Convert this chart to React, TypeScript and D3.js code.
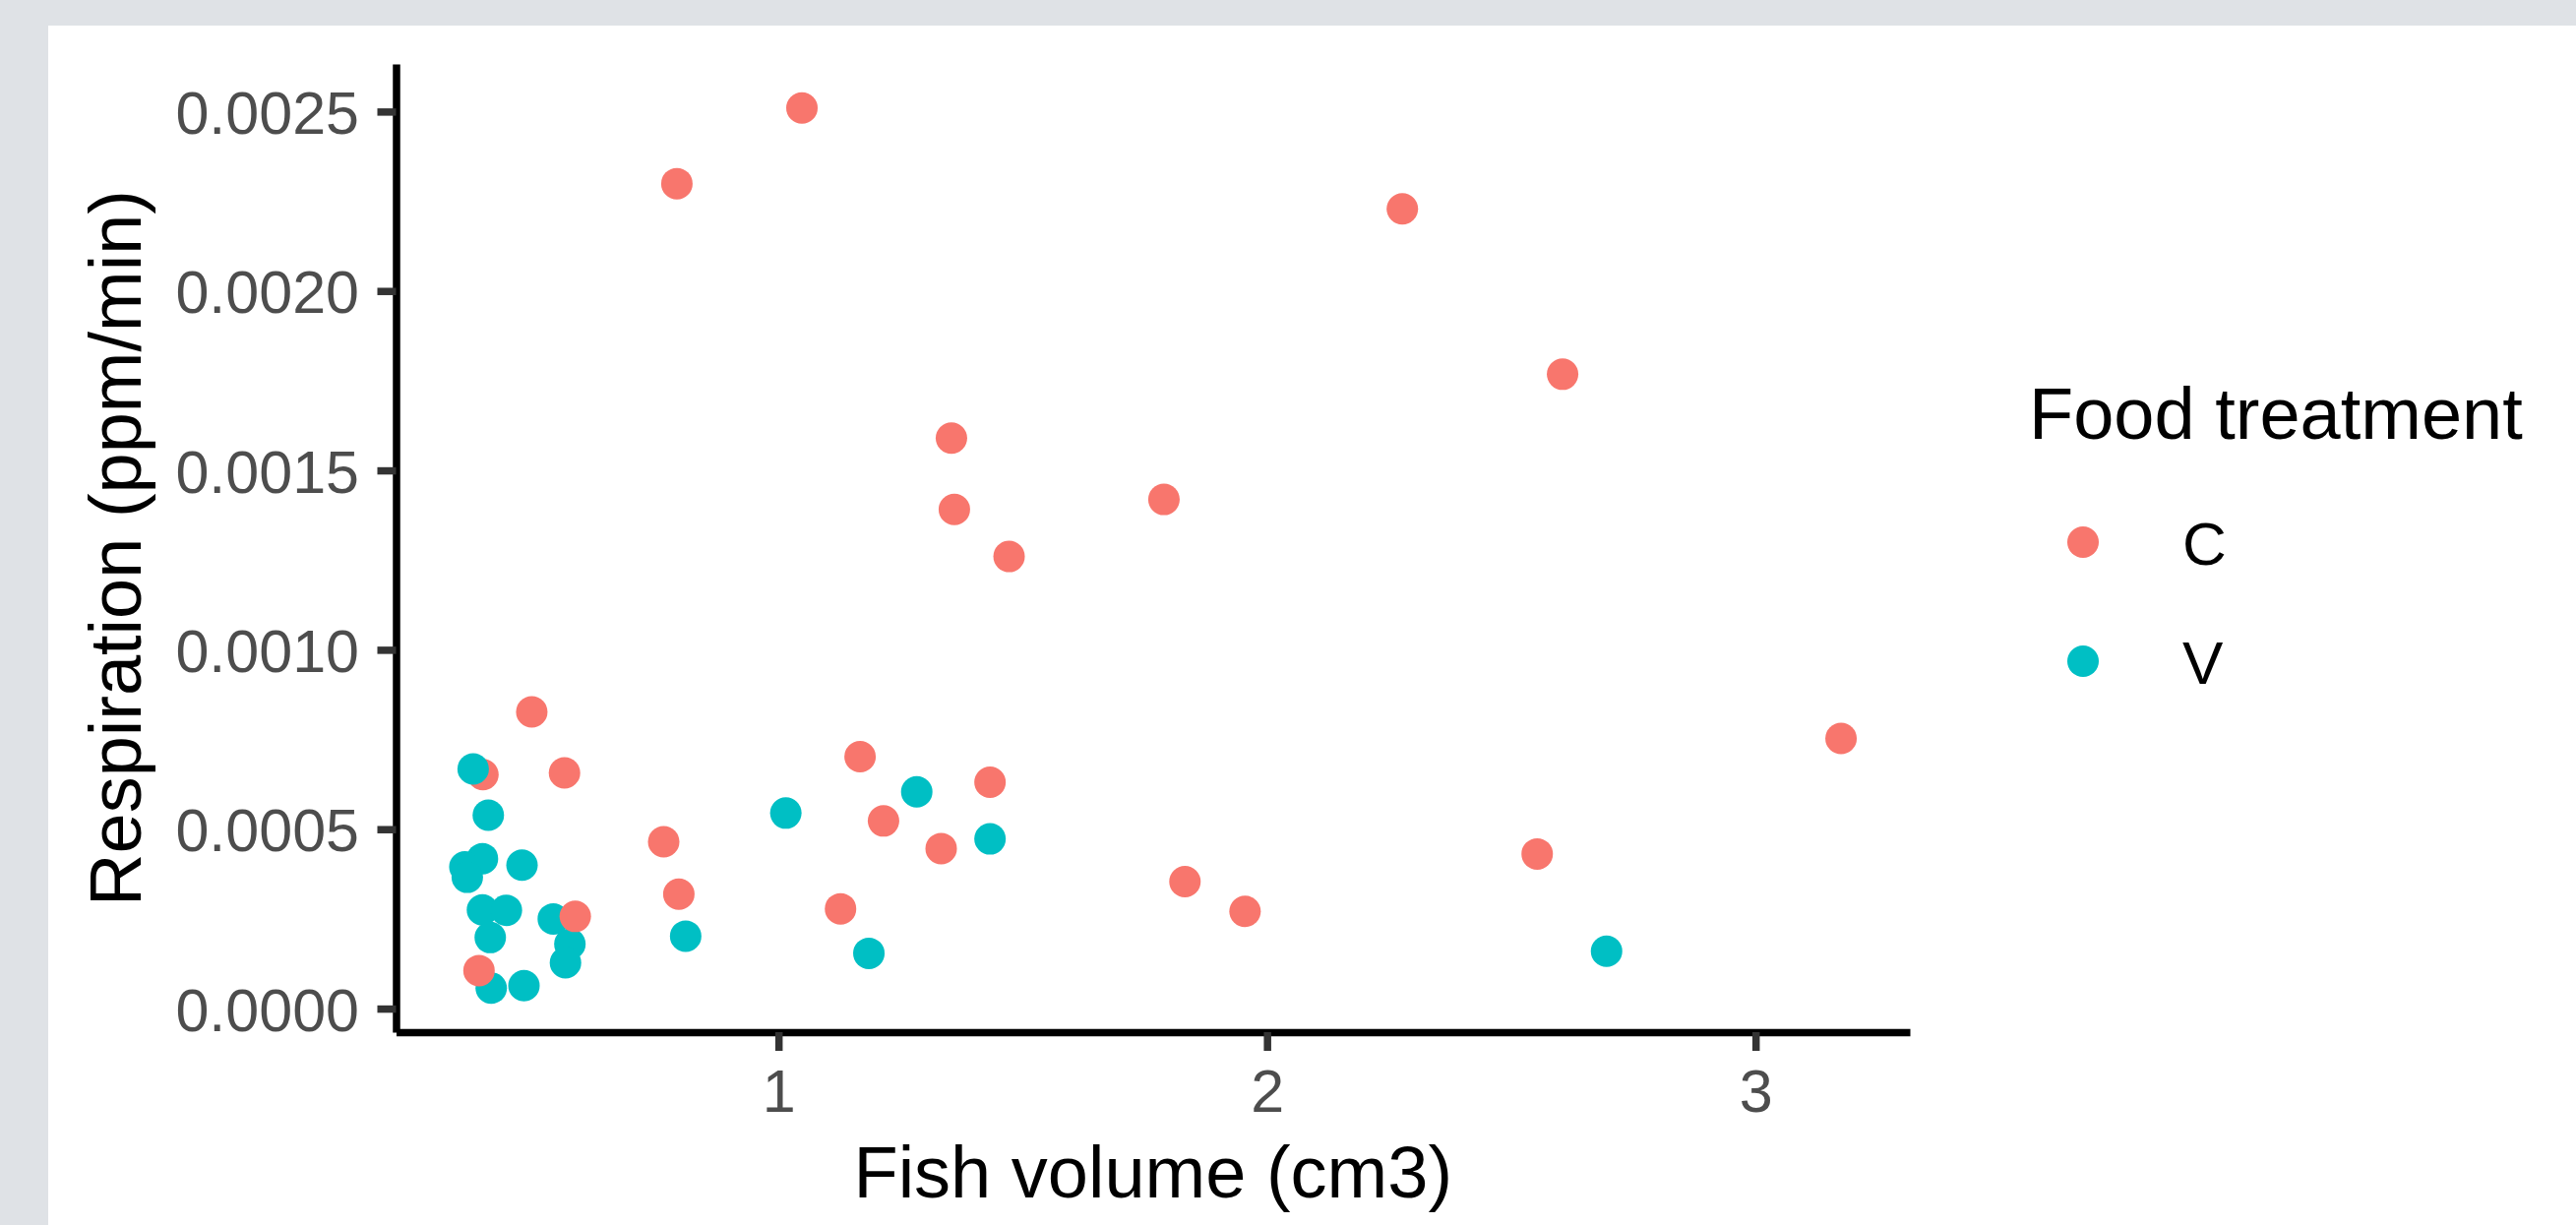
import React, { useEffect, useRef } from 'react';
import * as d3 from 'd3';

// points in drawing order
const treatment = [
  'C', 'C', 'C', 'C', 'C', 'C', 'C', 'C', 'C', 'C', 'C',
  'C', 'C', 'C', 'C', 'C', 'C', 'C', 'C', 'C', 'C', 'C',
  'V', 'V', 'V', 'V', 'V', 'V', 'V', 'V', 'V', 'V',
  'V', 'V', 'V', 'V', 'V', 'V', 'V', 'V', 'V', 'V',
  'C', 'C',
];
const volume = [
  0.495, 0.395, 0.562, 0.765, 0.796, 1.167, 1.215, 1.127, 1.433, 1.333, 1.832,
  1.955, 3.175, 2.553, 1.048, 0.792, 2.277, 2.605, 1.354, 1.36, 1.789, 1.472,
  0.375, 0.406, 0.394, 0.358, 0.363, 0.475, 0.394, 0.443, 0.539, 0.41,
  0.573, 0.564, 0.412, 0.479, 0.81, 1.015, 1.185, 1.283, 1.433, 2.695,
  0.584, 0.387,
];
const respiration = [
  0.000827, 0.000652, 0.000657, 0.000465, 0.000319, 0.000702, 0.000523, 0.000278, 0.000631, 0.000446, 0.000354,
  0.000271, 0.000753, 0.000431, 0.00251, 0.002299, 0.002229, 0.001768, 0.00159, 0.001391, 0.001419, 0.00126,
  0.000668, 0.000539, 0.000418, 0.000395, 0.000366, 0.0004, 0.000275, 0.000274, 0.00025, 0.000198,
  0.00018, 0.000128, 0.000057, 0.000064, 0.000202, 0.000545, 0.000154, 0.000604, 0.000473, 0.00016,
  0.000257, 0.000106,
];

const groups = ['C', 'V'];
const groupColors = ['#F8766D', '#00BFC4'];
const xTicks = [1, 2, 3];
const yTicks = [0, 0.0005, 0.001, 0.0015, 0.002, 0.0025];

const FONT = '"Liberation Sans", Arial, Helvetica, sans-serif';

function App() {
  const chartRef = useRef<SVGSVGElement>(null);

  useEffect(() => {
    const svg = d3.select(chartRef.current);
    svg.selectAll('*').remove();

    const W = 2618;
    const H = 1245;
    const panel = { left: 402.5, right: 1941, top: 65, bottom: 1049 };

    const data = volume.map((v, i) => ({ x: v, y: respiration[i], g: treatment[i] }));

    // ggplot style 5% expansion
    const expand = (ext: number[]) => {
      const pad = (ext[1] - ext[0]) * 0.05;
      return [ext[0] - pad, ext[1] + pad];
    };

    const x = d3
      .scaleLinear()
      .domain(expand(d3.extent(volume) as number[]))
      .range([panel.left, panel.right]);
    const y = d3
      .scaleLinear()
      .domain(expand(d3.extent(respiration) as number[]))
      .range([panel.bottom, panel.top]);
    const color = d3.scaleOrdinal<string, string>().domain(groups).range(groupColors);

    svg.append('rect').attr('width', W).attr('height', H).attr('fill', '#DFE2E6');
    svg.append('rect').attr('x', 49).attr('y', 26).attr('width', W - 49).attr('height', H - 26).attr('fill', '#FFFFFF');

    // points
    svg
      .append('g')
      .selectAll('circle')
      .data(data)
      .enter()
      .append('circle')
      .attr('cx', (d) => x(d.x))
      .attr('cy', (d) => y(d.y))
      .attr('r', 16)
      .attr('fill', (d) => color(d.g));

    // axes
    const yAxis = svg
      .append('g')
      .attr('transform', `translate(${panel.left},0)`)
      .call(d3.axisLeft(y).tickValues(yTicks).tickFormat(d3.format('.4f')).tickSize(19).tickSizeOuter(0).tickPadding(18.5));
    const xAxis = svg
      .append('g')
      .attr('transform', `translate(0,${panel.bottom})`)
      .call(d3.axisBottom(x).tickValues(xTicks).tickFormat(d3.format('d')).tickSize(19).tickSizeOuter(0).tickPadding(18.5));

    [yAxis, xAxis].forEach((ax) => {
      ax.attr('font-family', FONT).attr('font-size', 61);
      ax.select('.domain').attr('stroke', '#000000').attr('stroke-width', 7.5);
      ax.selectAll('.tick line').attr('stroke', '#333333').attr('stroke-width', 7.5);
      ax.selectAll('.tick text').attr('fill', '#4D4D4D');
    });
    yAxis.selectAll('.tick text').attr('dy', '0.36em');

    // axis titles
    svg
      .append('text')
      .attr('x', (panel.left + panel.right) / 2)
      .attr('y', 1217)
      .attr('text-anchor', 'middle')
      .attr('font-family', FONT)
      .attr('font-size', 74)
      .attr('fill', '#000000')
      .text('Fish volume (cm3)');
    svg
      .append('text')
      .attr('transform', `translate(143,${(panel.top + panel.bottom) / 2}) rotate(-90)`)
      .attr('text-anchor', 'middle')
      .attr('font-family', FONT)
      .attr('font-size', 74)
      .attr('fill', '#000000')
      .text('Respiration (ppm/min)');

    // legend
    const legend = svg.append('g');
    legend
      .append('text')
      .attr('x', 2062)
      .attr('y', 446)
      .attr('font-family', FONT)
      .attr('font-size', 74)
      .attr('fill', '#000000')
      .text('Food treatment');
    const item = legend
      .selectAll('g.item')
      .data(groups)
      .enter()
      .append('g')
      .attr('class', 'item')
      .attr('transform', (d, i) => `translate(0,${551 + i * 121})`);
    item.append('circle').attr('cx', 2117).attr('cy', 0).attr('r', 16).attr('fill', (d) => color(d));
    item
      .append('text')
      .attr('x', 2218)
      .attr('y', 23)
      .attr('font-family', FONT)
      .attr('font-size', 62)
      .attr('fill', '#000000')
      .text((d) => d);
  }, []);

  return (
    <div style={{ position: 'absolute', left: 0, top: 0 }}>
      <svg ref={chartRef} width={2618} height={1245} style={{ display: 'block' }}></svg>
    </div>
  );
}

export default App;
